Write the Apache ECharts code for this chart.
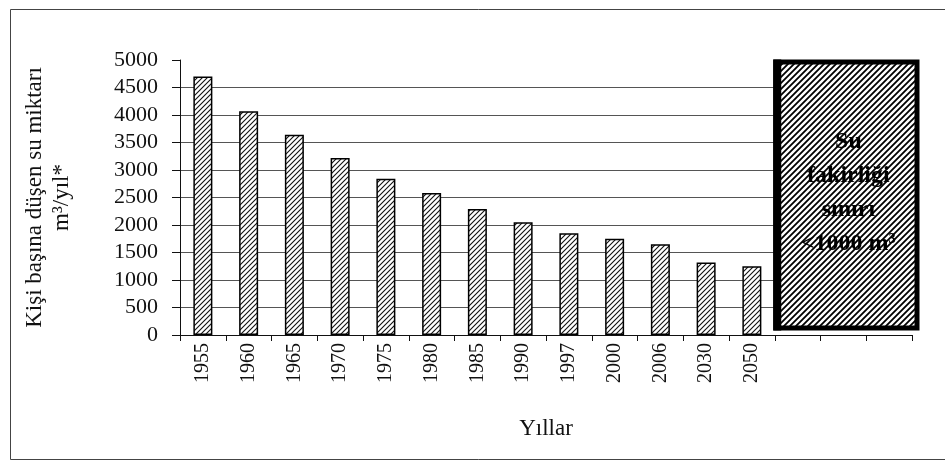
<!DOCTYPE html>
<html><head><meta charset="utf-8">
<script src="https://cdn.jsdelivr.net/npm/echarts@6/dist/echarts.min.js"></script>
<style>html,body{margin:0;padding:0;background:#fff}#c{width:945px;height:462px}</style>
</head><body><div id="c"></div>
<script>
const years = ['1955','1960','1965','1970','1975','1980','1985','1990','1997','2000','2006','2030','2050'];
const waterPerCapita = [4700,4070,3640,3220,2840,2580,2290,2050,1850,1750,1650,1320,1250];
const extraSlots = ['', '', ''];
const yMin = 0, yMax = 5000, yInterval = 500;
const povertyBox = [[13, 15, 5000]];
const boxText = 'Su\nfakirliği\nsınırı\n<1000 m³';
const yName = 'Kişi başına düşen su miktarı\nm³/yıl*';
const xName = 'Yıllar';

function hatch(size, lw, color){
  const c = document.createElement('canvas'); c.width = size; c.height = size;
  const g = c.getContext('2d');
  g.fillStyle = '#fff'; g.fillRect(0,0,size,size);
  g.strokeStyle = color; g.lineWidth = lw;
  g.beginPath();
  g.moveTo(0,size); g.lineTo(size,0);
  g.moveTo(-2,2); g.lineTo(2,-2);
  g.moveTo(size-2,size+2); g.lineTo(size+2,size-2);
  g.stroke();
  return c;
}
const barPat = hatch(5, 1.1, '#111');
const boxPat = hatch(6, 1.8, '#000');

const serif = '"Liberation Serif", "DejaVu Serif", serif';
const splitColors = [];
for (let v = yMin; v <= yMax; v += yInterval) splitColors.push(v === yMax ? 'rgba(0,0,0,0)' : '#555');

const chart = echarts.init(document.getElementById('c'), null, {renderer: 'canvas'});
chart.setOption({
  animation: false,
  backgroundColor: '#fff',
  grid: {left: 180, right: 33, top: 60, bottom: 127, containLabel: false},
  graphic: [{type: 'rect', left: 8, top: 7, shape: {width: 945, height: 450}, style: {fill: 'none', stroke: '#444', lineWidth: 1}, silent: true, z: -10}],
  xAxis: {
    type: 'category',
    data: years.concat(extraSlots),
    name: xName, nameLocation: 'middle', nameGap: 82,
    nameTextStyle: {fontFamily: serif, fontSize: 23, color: '#111'},
    axisLine: {lineStyle: {color: '#111', width: 1}},
    axisTick: {show: true, length: 6, interval: 0, lineStyle: {color: '#111'}},
    axisLabel: {interval: 0, rotate: 90, margin: 8, fontFamily: serif, fontSize: 20, color: '#111'},
    splitLine: {show: false}
  },
  yAxis: {
    type: 'value', min: yMin, max: yMax, interval: yInterval,
    name: yName, nameLocation: 'middle', nameGap: 105, nameRotate: 90,
    nameTextStyle: {fontFamily: serif, fontSize: 23, color: '#111', lineHeight: 27},
    axisLine: {show: true, lineStyle: {color: '#111', width: 1}},
    axisTick: {show: true, length: 8, lineStyle: {color: '#111'}},
    axisLabel: {margin: 22, fontFamily: serif, fontSize: 22, color: '#111', formatter: v => String(v)},
    splitLine: {show: true, lineStyle: {color: splitColors, width: 1}}
  },
  series: [
    {
      type: 'bar', data: waterPerCapita, barWidth: 19,
      itemStyle: {color: {image: barPat, repeat: 'repeat'}, borderColor: '#000', borderWidth: 1.5}
    },
    {
      type: 'custom', data: povertyBox, z: 5,
      renderItem(params, api){
        const s = api.value(0), e = api.value(1), v = api.value(2);
        const bw = api.size([1, 0])[0];
        const p0 = api.coord([s, v]);
        const p1 = api.coord([e, 0]);
        const x0 = p0[0] - bw / 2 + 1, x1 = p1[0] + bw / 2 + 5;
        const y0 = p0[1] + 2, y1 = p1[1] - 7;
        return {type: 'group', children: [
          {type: 'rect', shape: {x: x0, y: y0, width: x1 - x0, height: y1 - y0},
           style: {fill: {image: boxPat, repeat: 'repeat'}, stroke: '#000', lineWidth: 5}},
          {type: 'rect', shape: {x: x0 - 2.5, y: y0 - 2.5, width: 8, height: y1 - y0 + 5}, style: {fill: '#000'}},
          {type: 'text', style: {text: boxText, x: (x0 + x1) / 2 + 2, y: (y0 + y1) / 2 - 2, align: 'center', verticalAlign: 'middle',
            font: 'bold 24px ' + serif, fill: '#000', lineHeight: 34}}
        ]};
      }
    }
  ]
});
</script></body></html>
